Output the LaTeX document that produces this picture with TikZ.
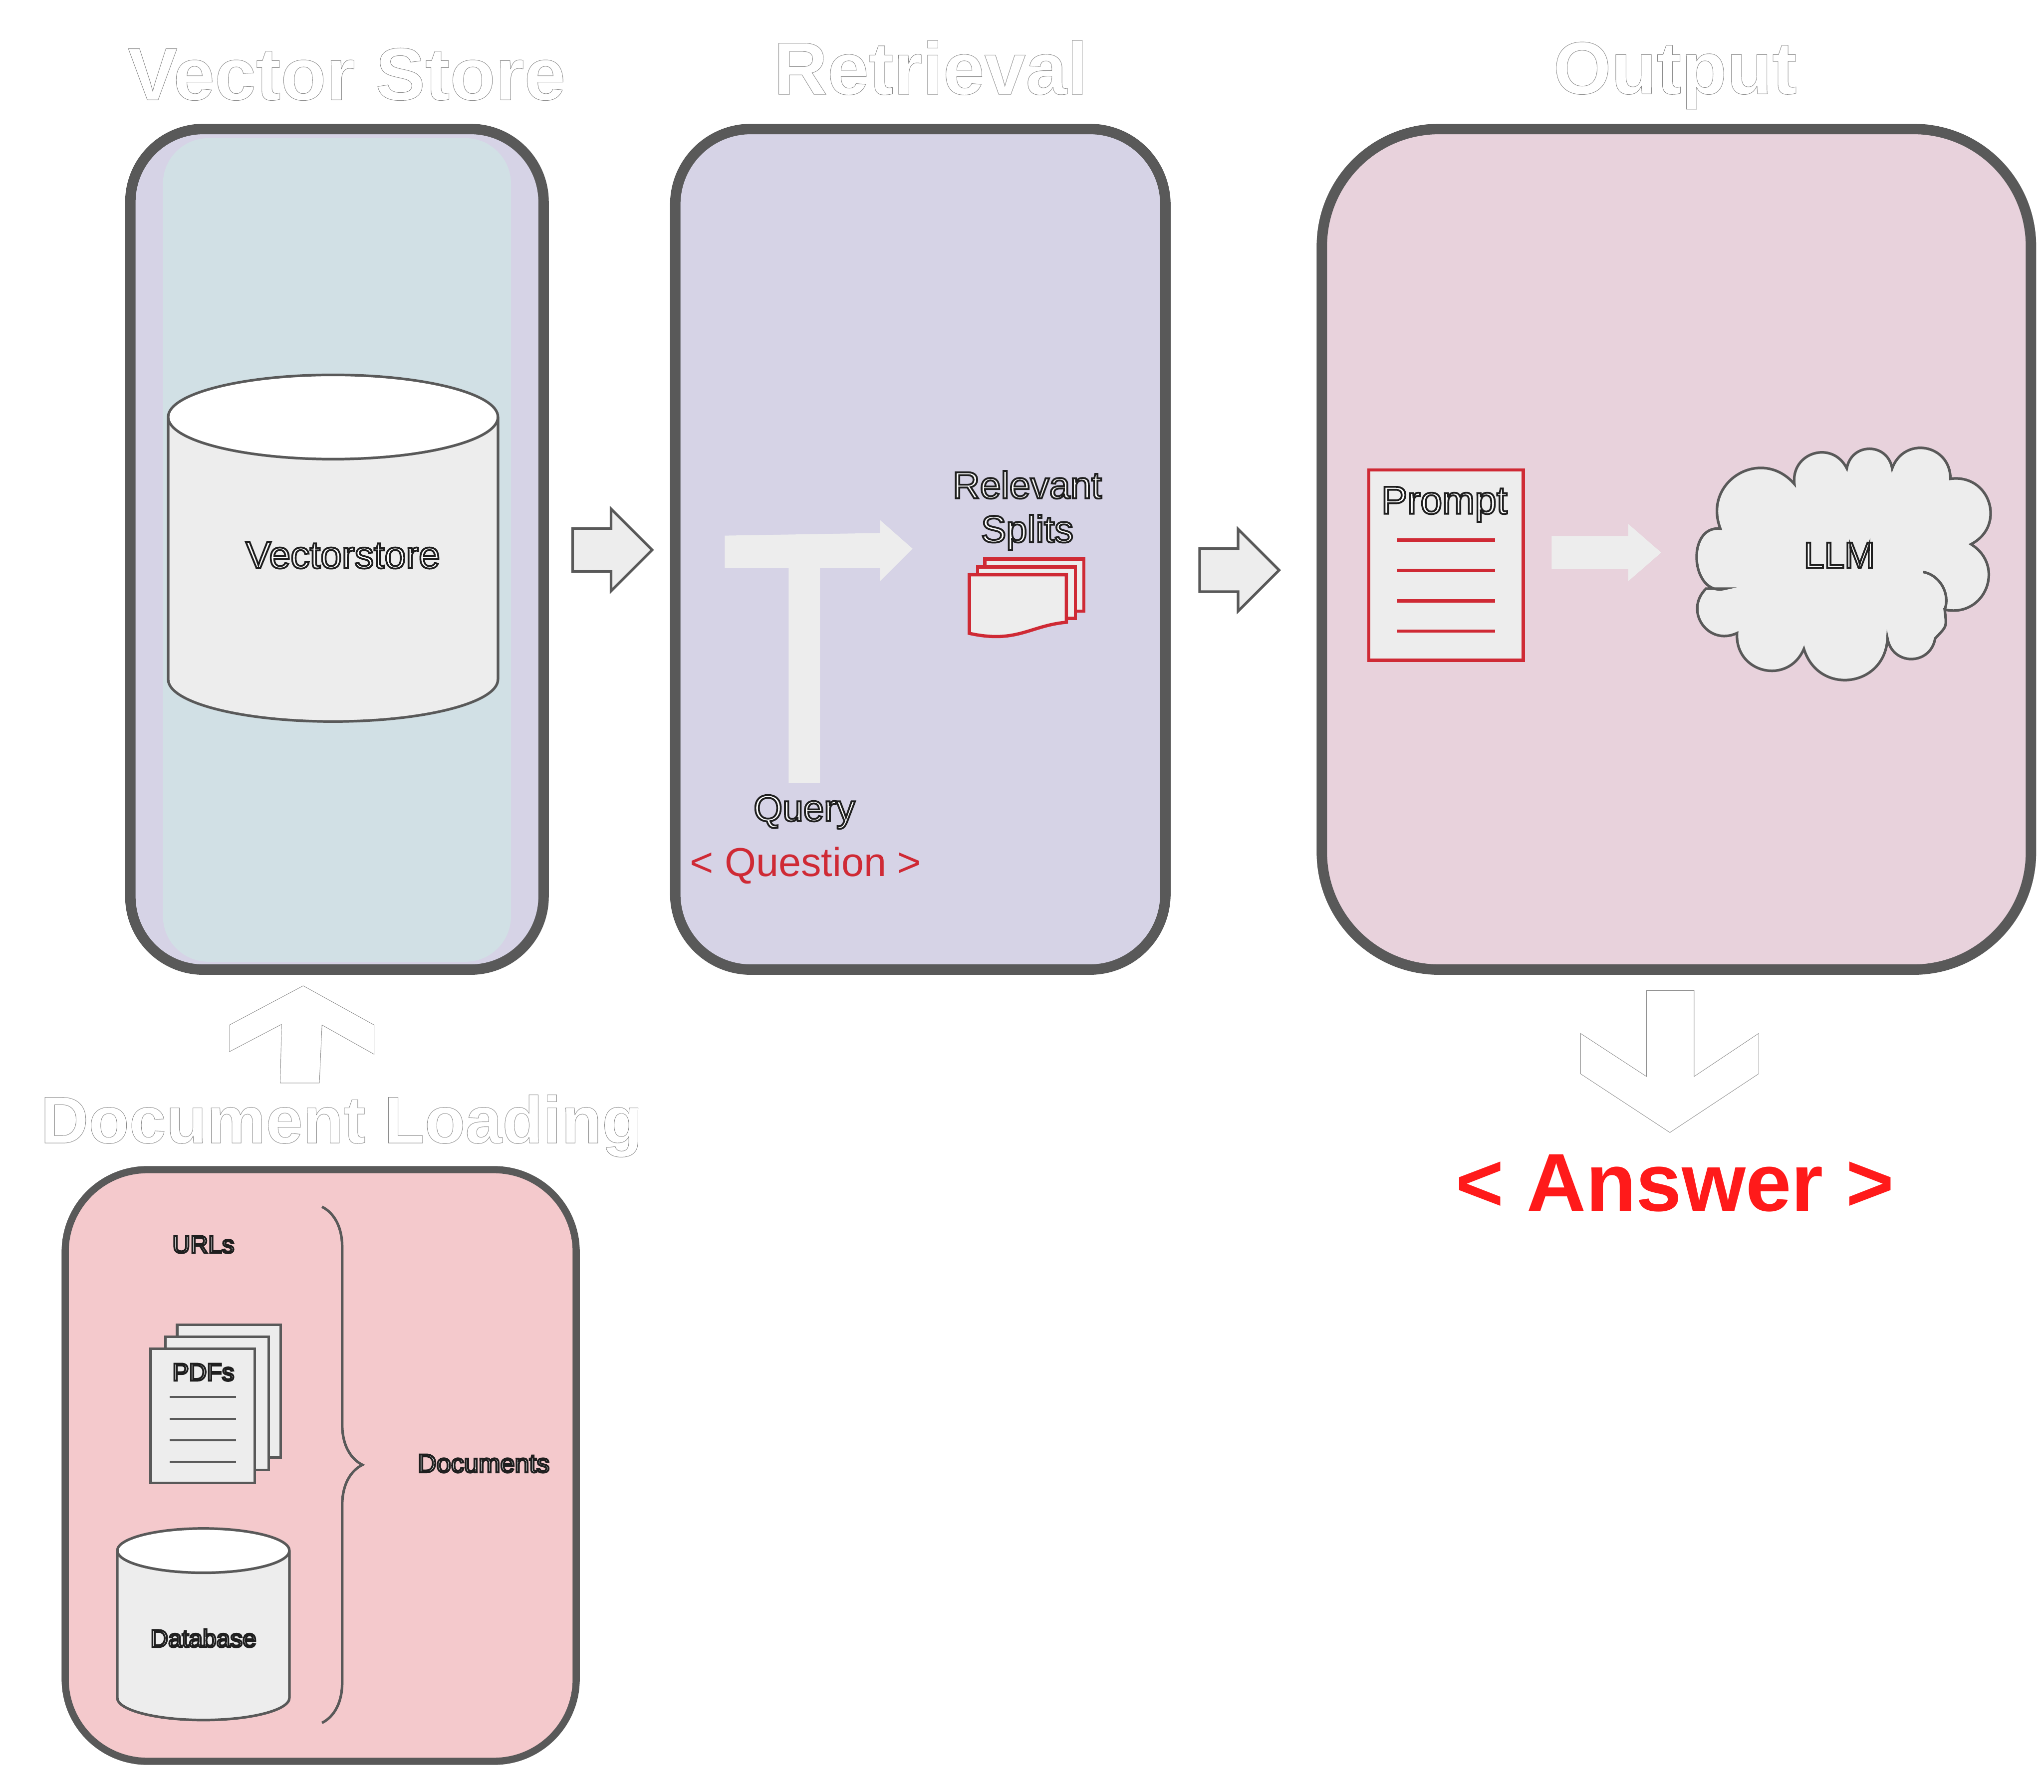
\documentclass[tikz,border=0pt]{standalone}
\usepackage{xcolor}
\usepackage{fontspec}
\setmainfont{Liberation Sans}
\usepackage{tikz}
\usetikzlibrary{arrows.meta,positioning,decorations.pathreplacing,shapes.geometric,shapes.arrows}

\definecolor{edgegray}{HTML}{595959}
\definecolor{softgray}{HTML}{EDEDED}
\definecolor{lavender}{HTML}{D6D3E6}
\definecolor{paleblue}{HTML}{D1E0E5}
\definecolor{palerose}{HTML}{E8D2DC}
\definecolor{salmon}{HTML}{F4C9CC}
\definecolor{pagered}{HTML}{CF2A35}
\definecolor{hotred}{HTML}{FF1A1A}

\newcommand{\hollow}[1]{\special{pdf:code 1 Tr 0.35 w 0.55 G}#1\special{pdf:code 0 Tr}}
\newcommand{\inked}[1]{\special{pdf:code 2 Tr 1.4 w 0.12 G 1 g}#1\special{pdf:code 0 Tr}}

\begin{document}
\begin{tikzpicture}[
  x=1pt, y=-1pt,
  panel/.style={draw=edgegray, line width=8pt, minimum width=#1},
  heading/.style={font=\bfseries\fontsize{57}{60}\selectfont, inner sep=0pt},
  lbl/.style={font=\fontsize{#1}{#1}\selectfont, inner sep=0pt, align=center},
  drum/.style={cylinder, shape border rotate=90, draw=edgegray, line width=2pt, cylinder uses custom fill, cylinder body fill=softgray, cylinder end fill=white},
  page/.style={draw=edgegray, line width=2pt, fill=softgray},
  redpage/.style={draw=pagered, line width=2.5pt, fill=softgray},
  ruling/.style={line width=1.5pt, draw=edgegray},
  redrule/.style={line width=2.5pt, draw=pagered},
  blockarrow/.style={single arrow, inner xsep=0pt, inner ysep=15.5pt, minimum height=61pt, single arrow head extend=15pt, single arrow tip angle=90, single arrow head indent=0pt, draw=edgegray, line width=2pt, fill=softgray},
  ghost/.style={draw=black!45, line width=0.35pt, fill=white}
]
\useasboundingbox (0,0) rectangle (1568,1375);

\node[heading] (vectitle) at (266,57) {\hollow{Vector Store}};
\node[heading] (rettitle) at (714,52) {\hollow{Retrieval}};
\node[heading] (outtitle) at (1285,58) {\hollow{Output}};
\node[heading, font=\bfseries\fontsize{51}{54}\selectfont] (doctitle) at (262,864) {\hollow{Document Loading}};

\node[panel=317pt, fill=lavender, minimum height=645pt, rounded corners=56pt] (vecpanel) at (258.5,421.5) {};
\fill[paleblue, rounded corners=35pt] (125,106) rectangle (392,738);
\node[panel=376pt, fill=lavender, minimum height=645pt, rounded corners=58pt] (retpanel) at (706,421.5) {};
\node[panel=544pt, fill=palerose, minimum height=645pt, rounded corners=90pt] (outpanel) at (1286,421.5) {};
\node[panel=392pt, line width=5.5pt, fill=salmon, minimum height=454pt, rounded corners=63pt] (docpanel) at (246,1124.5) {};

\node[drum, minimum width=253pt, minimum height=266pt, aspect=9.7] (vecdrum) at (255.5,441) {};
\node[lbl=29.5] (veclabel) at (263,426) {\inked{Vectorstore}};

\node[blockarrow] (vecright) at (461.5,422) {};
\node[blockarrow] (retright) at (942.5,437.5) {};

\fill[softgray] (556,411) -- (675,409) -- (675,399) -- (700,421) -- (675,446) -- (675,436) -- (629,436) -- (629,601) -- (605,601) -- (605,436) -- (556,436) -- cycle;
\node[lbl=28.6] (query) at (617,623) {\inked{Query}};
\node[lbl=31, text=pagered] (question) at (618,664) {< Question >};
\node[lbl=29] (relevant) at (788,372) {\inked{Relevant}};
\node[lbl=29, below=12pt of relevant] (splits) {\inked{Splits}};

\draw[redpage] (755.5,429) rectangle (831.5,469);
\draw[redpage] (750,435) rectangle (825,474.5);
\draw[redpage] (743.6,441) -- (818,441) -- (818,477.5) .. controls (790,480) and (780,494) .. (743.6,486) -- cycle;

\draw[redpage] (1050,360.6) rectangle (1168.5,506.7);
\node[lbl=30] (prompt) at (1108,387) {\inked{Prompt}};
\foreach \ypos in {414.4,437.7,461,484.2}
  \draw[redrule] (1071.5,\ypos) -- (1147,\ypos);

\node[single arrow, inner xsep=0pt, inner ysep=12.5pt, minimum height=84pt, single arrow head extend=9.2pt, single arrow tip angle=82, single arrow head indent=0pt, fill=softgray] (promptarrow) at (1225,424) {};

\draw[edgegray, line width=2pt, fill=softgray, bend angle=80, looseness=1.5]
  (1319.7,405.6) to[bend left] (1376.5,371.4) to[bend left] (1416.7,359.4) to[bend left] (1451.5,359.4)
  to[bend left] (1496.2,367.4) to[bend left] (1512,417.6) to[bend left] (1491.8,467.8)
  to[bend left=25] (1484.5,489.9) to[bend left] (1447.9,489.9) to[bend left] (1383.8,497.9)
  to[bend left] (1332.5,485.8) to[bend left] (1308.7,451.7) -- (1323.4,451.7) to[bend left=100] (1319.7,405.6) -- cycle;
\draw[edgegray, line width=2pt] (1475.3,438.9) to[bend left=50] (1491.8,467.8);
\node[lbl=28] (llm) at (1411,426) {\inked{LLM}};

\draw[ghost] (232.6,756.4) -- (287,786.5) -- (287,809) -- (247,786.5) -- (245,831) -- (215,831) -- (216,786) -- (176,807) -- (176,786.5) -- cycle;
\draw[ghost] (1263,760) -- (1299.6,760) -- (1299.6,826) -- (1349,793) -- (1349,824) -- (1281,869) -- (1212.5,824) -- (1212.5,793) -- (1263,826) -- cycle;
\node[lbl=63, font=\bfseries\fontsize{63}{66}\selectfont, text=hotred] (answer) at (1285,908) {< Answer >};

\node[lbl=19] (urls) at (156,955) {\inked{URLs}};
\draw[page] (135.9,1016.5) rectangle (215.3,1118.3);
\draw[page] (126.8,1025.6) rectangle (206.2,1127.8);
\draw[page] (115.6,1035) rectangle (195.4,1138);
\node[lbl=19] (pdfs) at (156,1053) {\inked{PDFs}};
\foreach \ypos in {1072,1088.6,1105,1121.6}
  \draw[ruling] (130,\ypos) -- (181,\ypos);

\node[drum, minimum width=132pt, minimum height=147pt, aspect=5.1] (dbdrum) at (156,1258) {};
\node[lbl=19] (database) at (156,1257) {\inked{Database}};

\coordinate (bracetop) at (247,926);
\coordinate (bracebot) at (247,1322);
\draw[edgegray, line width=2pt, decorate, decoration={brace, amplitude=31pt}] (bracetop) -- (bracebot);
\node[lbl=20] (documents) at (371,1123) {\inked{Documents}};
\end{tikzpicture}
\end{document}
